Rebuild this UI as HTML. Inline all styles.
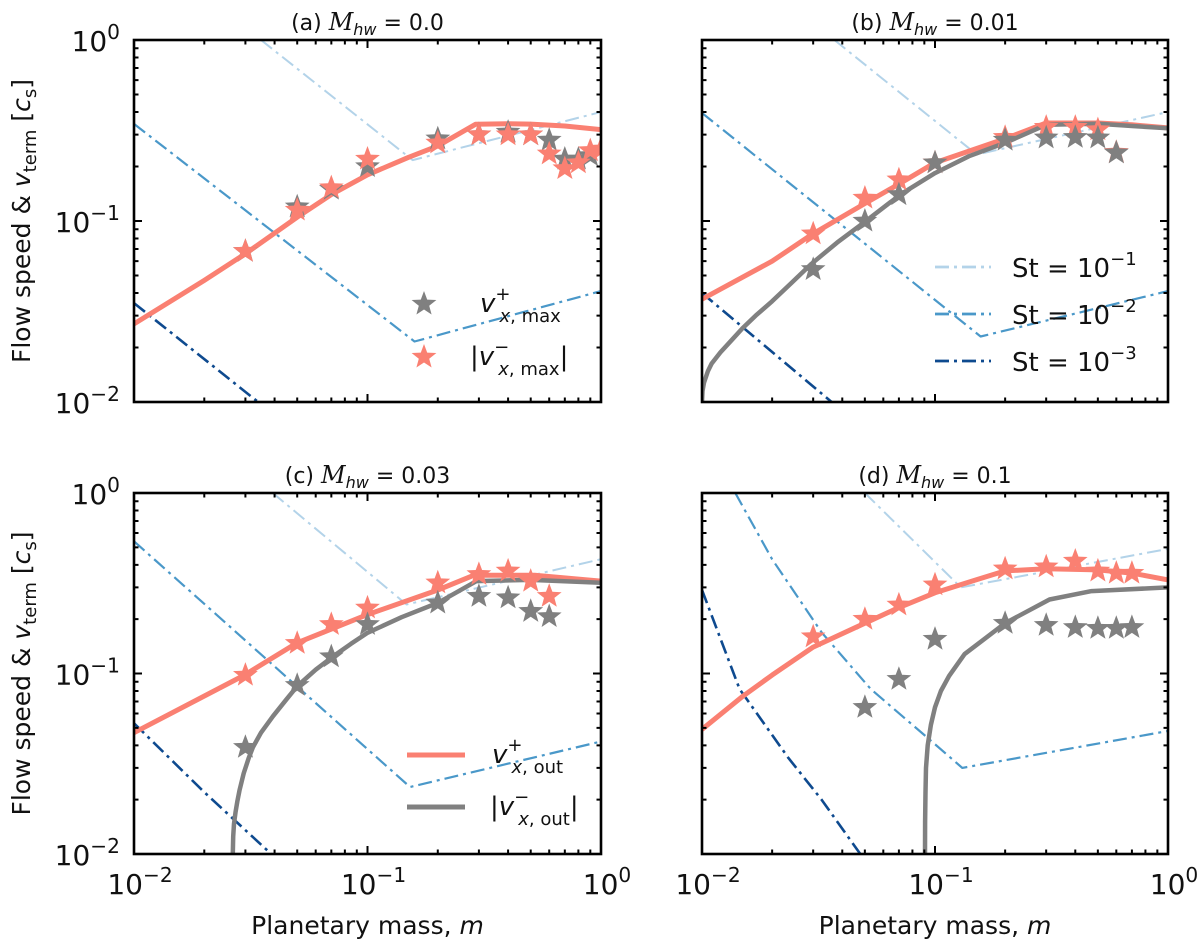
<!DOCTYPE html>
<html><head><meta charset="utf-8">
<style>
html,body{margin:0;padding:0;background:#fff;}
svg{display:block;font-family:"DejaVu Sans","Liberation Sans",sans-serif;}
</style></head>
<body>
<svg id="fig" width="1200" height="947" viewBox="0 0 1200 947" xmlns="http://www.w3.org/2000/svg">
<defs>
<clipPath id="clipA"><rect x="134" y="40" width="467" height="362"/></clipPath>
<clipPath id="clipB"><rect x="702" y="40" width="466" height="362"/></clipPath>
<clipPath id="clipC"><rect x="134" y="493" width="467" height="361"/></clipPath>
<clipPath id="clipD"><rect x="702" y="493" width="466" height="361"/></clipPath>
</defs>
</svg>
<script>
// ---------------- data ----------------
const xTickLabels = ["−2","−1","0"];
const yTickLabels = ["−2","−1","0"];
const titles = ["(a) ","(b) ","(c) ","(d) "];
const titleVals = ["0.0","0.01","0.03","0.1"];

// panel a
const aPlusM = [0.01,0.02,0.03,0.05,0.07,0.1,0.15,0.2,0.29,0.4,0.5,0.7,1.0];
const aPlusV = [0.027,0.047,0.066,0.105,0.14,0.18,0.225,0.26,0.342,0.345,0.343,0.335,0.32];
const aGrayStarM = [0.03,0.05,0.07,0.1,0.2,0.3,0.4,0.5,0.6,0.7,0.8,0.9];
const aGrayStarV = [0.068,0.12,0.15,0.2,0.285,0.30,0.31,0.30,0.28,0.22,0.22,0.23];
const aSalStarM = [0.03,0.05,0.07,0.1,0.2,0.3,0.4,0.5,0.6,0.7,0.8,0.9,1.0];
const aSalStarV = [0.068,0.115,0.153,0.22,0.27,0.30,0.30,0.30,0.235,0.195,0.21,0.245,0.25];
const aSt1M = [0.035,0.156,1.0]; const aSt1V = [1.0,0.217,0.40];
const aSt2M = [0.01,0.159,1.0]; const aSt2V = [0.344,0.0216,0.041];
const aSt3M = [0.01,0.034]; const aSt3V = [0.0352,0.01];

// panel b
const bPlusM = [0.01,0.02,0.0295,0.05,0.07,0.1,0.2,0.3,0.5,0.7,1.0];
const bPlusV = [0.037,0.06,0.084,0.125,0.16,0.21,0.285,0.348,0.348,0.34,0.327];
const bMinusM = [0.01,0.01005,0.0102,0.0106,0.011,0.012,0.0135,0.0149,0.017,0.02,0.024,0.0295,0.038,0.05,0.071,0.1,0.14,0.2,0.3,0.5,0.7,1.0];
const bMinusV = [0.01,0.0115,0.0128,0.0148,0.0163,0.0188,0.0222,0.0255,0.03,0.036,0.045,0.058,0.076,0.099,0.14,0.184,0.228,0.27,0.34,0.345,0.335,0.325];
const bSalStarM = [0.03,0.05,0.07,0.1,0.2,0.3,0.4,0.5,0.6];
const bSalStarV = [0.085,0.134,0.169,0.21,0.29,0.33,0.33,0.32,0.24];
const bGrayStarM = [0.03,0.05,0.07,0.1,0.2,0.3,0.4,0.5,0.6];
const bGrayStarV = [0.054,0.1,0.14,0.21,0.28,0.288,0.29,0.288,0.238];
const bSt1M = [0.037,0.151,1.0]; const bSt1V = [1.0,0.233,0.40];
const bSt2M = [0.01,0.157,1.0]; const bSt2V = [0.395,0.023,0.041];
const bSt3M = [0.01,0.036]; const bSt3V = [0.04,0.01];

// panel c
const cPlusM = [0.01,0.0297,0.05,0.1,0.2,0.285,0.52,1.0];
const cPlusV = [0.047,0.098,0.148,0.212,0.29,0.35,0.35,0.325];
const cMinusM = [0.0265,0.0266,0.0268,0.0272,0.0277,0.0283,0.0295,0.031,0.0323,0.035,0.0394,0.045,0.05,0.06,0.071,0.085,0.1,0.14,0.2,0.293,0.5,1.0];
const cMinusV = [0.01,0.0125,0.0147,0.017,0.0195,0.0225,0.028,0.034,0.039,0.047,0.058,0.072,0.085,0.105,0.124,0.146,0.168,0.205,0.246,0.325,0.33,0.318];
const cSalStarM = [0.03,0.05,0.07,0.1,0.2,0.3,0.4,0.5,0.6];
const cSalStarV = [0.098,0.147,0.187,0.231,0.318,0.354,0.37,0.325,0.268];
const cGrayStarM = [0.03,0.05,0.07,0.1,0.2,0.3,0.4,0.5,0.6];
const cGrayStarV = [0.039,0.086,0.124,0.187,0.246,0.268,0.263,0.221,0.207];
const cSt1M = [0.0393,0.147,1.0]; const cSt1V = [1.0,0.241,0.43];
const cSt2M = [0.01,0.152,1.0]; const cSt2V = [0.54,0.0235,0.042];
const cSt3M = [0.01,0.02,0.0387]; const cSt3V = [0.053,0.022,0.01];

// panel d
const dPlusM = [0.01,0.015,0.02,0.03,0.05,0.069,0.1,0.15,0.2,0.3,0.5,0.7,1.0];
const dPlusV = [0.049,0.075,0.098,0.14,0.19,0.23,0.28,0.33,0.37,0.38,0.375,0.36,0.33];
const dMinusM = [0.0906,0.0907,0.091,0.0915,0.093,0.096,0.1,0.106,0.115,0.125,0.134,0.2,0.31,0.47,1.0];
const dMinusV = [0.01,0.015,0.022,0.03,0.04,0.052,0.065,0.08,0.097,0.113,0.128,0.19,0.257,0.286,0.30];
const dSalStarM = [0.03,0.05,0.07,0.1,0.2,0.3,0.4,0.5,0.6,0.7];
const dSalStarV = [0.16,0.2,0.24,0.31,0.38,0.39,0.42,0.37,0.36,0.36];
const dGrayStarM = [0.05,0.07,0.1,0.2,0.3,0.4,0.5,0.6,0.7];
const dGrayStarV = [0.065,0.093,0.155,0.19,0.185,0.18,0.178,0.178,0.18];
const dSt1M = [0.05,0.129,1.0]; const dSt1V = [1.0,0.30,0.49];
const dSt2M = [0.0139,0.02,0.0326,0.053,0.093,0.131,1.0]; const dSt2V = [1.0,0.43,0.169,0.082,0.044,0.030,0.048];
const dSt3M = [0.01,0.0145,0.0235,0.0326,0.0478]; const dSt3V = [0.29,0.082,0.034,0.020,0.01];

// ---------------- drawing ----------------
const NS = "http://www.w3.org/2000/svg";
const svg = document.getElementById("fig");
const SAL = "#fa8072", GRAY = "#808080", B1 = "#b3d3e9", B2 = "#4a98c9", B3 = "#0e4a8f";
const panels = [
  {x0:134,y0:40,w:467,h:362,clip:"clipA"},
  {x0:702,y0:40,w:466,h:362,clip:"clipB"},
  {x0:134,y0:493,w:467,h:361,clip:"clipC"},
  {x0:702,y0:493,w:466,h:361,clip:"clipD"}
];
function X(p,m){return p.x0+(Math.log10(m)+2)/2*p.w;}
function Y(p,v){return p.y0+(-Math.log10(v))/2*p.h;}
function mk(tag,attrs,parent){const e=document.createElementNS(NS,tag);for(const k in attrs)e.setAttribute(k,attrs[k]);(parent||svg).appendChild(e);return e;}

function line(p,ms,vs,color,lw,dash,name,g){
  let d="";for(let i=0;i<ms.length;i++){d+=(i?"L":"M")+X(p,ms[i]).toFixed(1)+","+Y(p,vs[i]).toFixed(1);}
  const e=mk("path",{d:d,fill:"none",stroke:color,"stroke-width":lw,"stroke-dasharray":dash||"none","stroke-linejoin":"round"},g);
  
  
  return e;
}
function starPath(cx,cy,r){
  let d="";const ri=r*0.42;
  for(let i=0;i<10;i++){const a=-Math.PI/2+i*Math.PI/5;const rr=i%2?ri:r;d+=(i?"L":"M")+(cx+rr*Math.cos(a)).toFixed(1)+","+(cy+rr*Math.sin(a)).toFixed(1);}
  return d+"Z";
}
function stars(p,ms,vs,color,name,g){
  for(let i=0;i<ms.length;i++){
    const e=mk("path",{d:starPath(X(p,ms[i]),Y(p,vs[i]),13),fill:color},g);
    
    
  }
}
function stLines(p,g,a1m,a1v,a2m,a2v,a3m,a3v){
  line(p,a1m,a1v,B1,2,"14,5,3,5","st-1e-1-line",g);
  line(p,a2m,a2v,B2,2.2,"14,5,3,5","st-1e-2-line",g);
  line(p,a3m,a3v,B3,2.6,"14,5,3,5","st-1e-3-line",g);
}
function powLabel(x,y,exp,anchor,size,name){
  const t=mk("text",{x:x,y:y,"text-anchor":anchor,"font-size":size,fill:"#111"});
  
  
  const a=mk("tspan",{},t);a.textContent="10";
  const b=mk("tspan",{dy:-size*0.42,"font-size":size*0.72},t);b.textContent=exp;
  return t;
}

const groups=[];
panels.forEach((p,i)=>{
  const g=mk("g",{"clip-path":"url(#"+p.clip+")"});
  
  
  groups.push(g);
});

stLines(panels[0],groups[0],aSt1M,aSt1V,aSt2M,aSt2V,aSt3M,aSt3V);
line(panels[0],aPlusM,aPlusV,SAL,5,null,"v-plus-out-line",groups[0]);
stars(panels[0],aGrayStarM,aGrayStarV,GRAY,"v-plus-max-star",groups[0]);
stars(panels[0],aSalStarM,aSalStarV,SAL,"v-minus-max-star",groups[0]);

stLines(panels[1],groups[1],bSt1M,bSt1V,bSt2M,bSt2V,bSt3M,bSt3V);
line(panels[1],bPlusM,bPlusV,SAL,5,null,"v-plus-out-line",groups[1]);
line(panels[1],bMinusM,bMinusV,GRAY,4.5,null,"v-minus-out-line",groups[1]);
stars(panels[1],bSalStarM,bSalStarV,SAL,"v-minus-max-star",groups[1]);
stars(panels[1],bGrayStarM,bGrayStarV,GRAY,"v-plus-max-star",groups[1]);

stLines(panels[2],groups[2],cSt1M,cSt1V,cSt2M,cSt2V,cSt3M,cSt3V);
line(panels[2],cPlusM,cPlusV,SAL,5,null,"v-plus-out-line",groups[2]);
line(panels[2],cMinusM,cMinusV,GRAY,4.5,null,"v-minus-out-line",groups[2]);
stars(panels[2],cSalStarM,cSalStarV,SAL,"v-minus-max-star",groups[2]);
stars(panels[2],cGrayStarM,cGrayStarV,GRAY,"v-plus-max-star",groups[2]);

stLines(panels[3],groups[3],dSt1M,dSt1V,dSt2M,dSt2V,dSt3M,dSt3V);
line(panels[3],dPlusM,dPlusV,SAL,5,null,"v-plus-out-line",groups[3]);
line(panels[3],dMinusM,dMinusV,GRAY,4.5,null,"v-minus-out-line",groups[3]);
stars(panels[3],dSalStarM,dSalStarV,SAL,"v-minus-max-star",groups[3]);
stars(panels[3],dGrayStarM,dGrayStarV,GRAY,"v-plus-max-star",groups[3]);

panels.forEach((p,i)=>{
  const fr=mk("rect",{x:p.x0,y:p.y0,width:p.w,height:p.h,fill:"none",stroke:"#000","stroke-width":2.6});
  
  
  let d="";
  for(let e=-2;e<=0;e++){
    for(let k=1;k<=9;k++){
      const val=k*Math.pow(10,e); if(val>1.0001) break;
      const L=(k===1)?8:4.5;
      const xx=X(p,val), yy=Y(p,val);
      d+="M"+xx+","+(p.y0+p.h)+"v"+(-L)+"M"+xx+","+p.y0+"v"+L;
      d+="M"+p.x0+","+yy+"h"+L+"M"+(p.x0+p.w)+","+yy+"h"+(-L);
    }
  }
  const tk=mk("path",{d:d,stroke:"#000","stroke-width":2,fill:"none"});
  
  
  const t=mk("text",{x:p.x0+p.w/2,y:p.y0-10,"text-anchor":"middle","font-size":22,fill:"#111"});
  
  
  const t1=mk("tspan",{},t);t1.textContent=titles[i];
  const t2=mk("tspan",{"font-family":"DejaVu Serif, serif","font-style":"italic","font-size":24},t);t2.textContent="M";
  const t3=mk("tspan",{"font-style":"italic","font-size":16,dy:5},t);t3.textContent="hw";
  const t4=mk("tspan",{dy:-5},t);t4.textContent=" = "+titleVals[i];
  if(i===0||i===2){
    for(let e=0;e<3;e++){ powLabel(p.x0-14,Y(p,Math.pow(10,e-2))+11,yTickLabels[e],"end",28,"y-tick-label"); }
  }
  if(i===2||i===3){
    for(let e=0;e<3;e++){ powLabel(X(p,Math.pow(10,e-2))+6,p.y0+p.h+40,xTickLabels[e],"middle",28,"x-tick-label"); }
    const xl=mk("text",{x:p.x0+p.w/2,y:p.y0+p.h+80,"text-anchor":"middle","font-size":25,fill:"#111"});
    
    
    const a=mk("tspan",{},xl);a.textContent="Planetary mass, ";
    const b=mk("tspan",{"font-style":"italic"},xl);b.textContent="m";
  }
  if(i===0||i===2){
    const cy=p.y0+p.h/2;
    const yl=mk("text",{x:0,y:0,"text-anchor":"middle","font-size":25,fill:"#111",transform:"translate(30,"+cy+") rotate(-90)"});
    
    
    const a=mk("tspan",{},yl);a.textContent="Flow speed & ";
    const b=mk("tspan",{"font-style":"italic"},yl);b.textContent="v";
    const c=mk("tspan",{"font-size":18,dy:6},yl);c.textContent="term";
    const dd=mk("tspan",{dy:-6},yl);dd.textContent=" [";
    const e2=mk("tspan",{"font-style":"italic"},yl);e2.textContent="c";
    const f=mk("tspan",{"font-size":18,dy:6},yl);f.textContent="s";
    const g2=mk("tspan",{dy:-6},yl);g2.textContent="]";
  }
});

function vLabel(x,y,sign,sub,abs,name){
  const t=mk("text",{x:x,y:y,"font-size":26,fill:"#111"});
  
  
  if(abs){const a=mk("tspan",{},t);a.textContent="|";}
  const v=mk("tspan",{"font-style":"italic"},t);v.textContent="v";
  const sp=mk("tspan",{"font-size":18,dy:-12},t);sp.textContent=sign;
  const sb=mk("tspan",{"font-size":18,dy:22,dx:-11},t);
  const sbi=mk("tspan",{"font-style":"italic"},sb);sbi.textContent="x";
  const sbr=mk("tspan",{},sb);sbr.textContent=", "+sub;
  if(abs){const z=mk("tspan",{dy:-10,"font-size":26},t);z.textContent="|";}
  return t;
}
const la=mk("g",{});


let s1=mk("path",{d:starPath(424,304,13),fill:GRAY},la);


let s2=mk("path",{d:starPath(424,357,13),fill:SAL},la);


vLabel(480,312,"+","max",false,"legend-text-v-plus-max");
vLabel(470,365,"−","max",true,"legend-text-v-minus-max");

const lbCols=[B1,B2,B3], lbExp=["−1","−2","−3"], lbY=[267,314,361];
for(let k=0;k<3;k++){
  const l=mk("path",{d:"M935,"+lbY[k]+"h56",stroke:lbCols[k],"stroke-width":2.8,"stroke-dasharray":"14,5,3,5",fill:"none"});
  
  
  const t=mk("text",{x:1012,y:lbY[k]+10,"font-size":26,fill:"#111"});
  
  
  const a=mk("tspan",{},t);a.textContent="St = 10";
  const b=mk("tspan",{"font-size":18,dy:-12},t);b.textContent=lbExp[k];
}

const lc1=mk("path",{d:"M407,755h58",stroke:SAL,"stroke-width":5,fill:"none"});


const lc2=mk("path",{d:"M407,807h58",stroke:GRAY,"stroke-width":5,fill:"none"});


vLabel(492,763,"+","out",false,"legend-text-v-plus-out");
vLabel(490,815,"−","out",true,"legend-text-v-minus-out");
</script>
</body></html>
